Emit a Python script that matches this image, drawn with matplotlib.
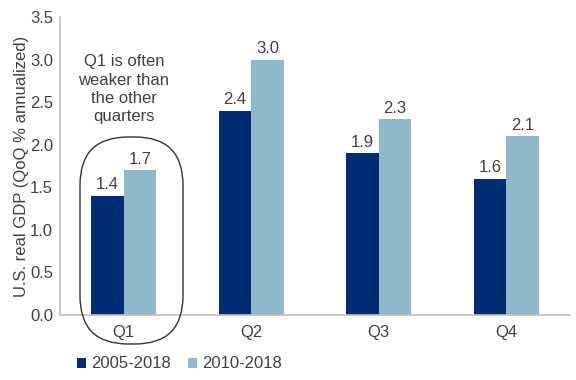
import matplotlib
matplotlib.use("Agg")
import matplotlib.pyplot as plt
from matplotlib.patches import FancyBboxPatch
import numpy as np

plt.rcParams['font.family'] = ['Liberation Sans', 'DejaVu Sans']

categories = ["Q1", "Q2", "Q3", "Q4"]
series_names = ["2005-2018", "2010-2018"]
vals_2005 = [1.4, 2.4, 1.9, 1.6]
vals_2010 = [1.7, 3.0, 2.3, 2.1]
yticks = [0.0, 0.5, 1.0, 1.5, 2.0, 2.5, 3.0, 3.5]

dark = "#002D72"
light = "#8FB8CB"
txt = "#404040"
fs = 12

fig = plt.figure(figsize=(5.76, 3.80), dpi=100)
ax = fig.add_axes([60/576, (380-315)/380, 510/576, (315-17)/380])

x = np.arange(len(categories))
w = 0.255
b1 = ax.bar(x - w/2, vals_2005, w, color=dark, label=series_names[0])
b2 = ax.bar(x + w/2, vals_2010, w, color=light, label=series_names[1])
for bars, vals in ((b1, vals_2005), (b2, vals_2010)):
    for r, v in zip(bars, vals):
        ax.text(r.get_x() + r.get_width()/2, v + 0.04, f"{v:.1f}", ha="center", va="bottom",
                fontsize=fs, color=txt)

ax.set_xlim(-0.5, 3.5)
ax.set_ylim(0, 3.5)
ax.set_yticks(yticks)
ax.set_yticklabels([f"{t:.1f}" for t in yticks])
ax.set_xticks(x)
ax.set_xticklabels(categories)
ax.tick_params(length=0, labelsize=fs, colors=txt, pad=5)
ax.tick_params(axis='x', pad=7)
for s in ["top", "right"]:
    ax.spines[s].set_visible(False)
for s in ["left", "bottom"]:
    ax.spines[s].set_color("#BFBFBF")
    ax.spines[s].set_linewidth(1.2)
ax.set_ylabel("U.S. real GDP (QoQ % annualized)", fontsize=fs, color=txt, labelpad=1)

ax.text(0, 2.65, "Q1 is often\nweaker than\nthe other\nquarters", ha="center", va="center",
        fontsize=fs, color=txt, linespacing=1.28)

# hand-drawn style outline around Q1 (pixel -> inches)
x0, x1, ytop, ybot = 80, 183, 137, 344
box = FancyBboxPatch((x0/100, (380-ybot)/100), (x1-x0)/100, (ybot-ytop)/100,
                     boxstyle="round,pad=0,rounding_size=0.48",
                     transform=fig.dpi_scale_trans, fill=False, edgecolor="#333333",
                     linewidth=1.0, clip_on=False)
fig.patches.append(box)

leg = fig.legend(handles=[b1, b2], labels=series_names, loc="center left",
                 bbox_to_anchor=(62/576, (380-364)/380), ncol=2, frameon=False,
                 fontsize=fs, handlelength=0.55, handleheight=0.55, handletextpad=0.3,
                 columnspacing=1.0, labelcolor=txt)

fig.savefig("out.png", dpi=100)
